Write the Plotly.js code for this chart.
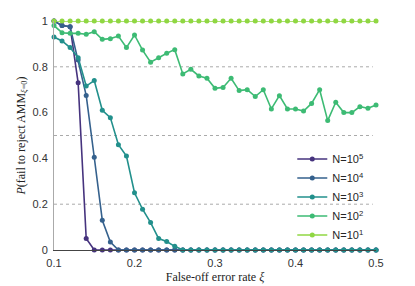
<!DOCTYPE html>
<html>
<head>
<meta charset="utf-8">
<script src="https://cdn.plot.ly/plotly-3.0.1.min.js"></script>
<style>html,body{margin:0;padding:0;background:#fff;}#chart{width:415px;height:286px;}</style>
</head>
<body>
<div id="chart"></div>
<script>
const xi = [0.10,0.11,0.12,0.13,0.14,0.15,0.16,0.17,0.18,0.19,0.20,0.21,0.22,0.23,0.24,0.25,0.26,0.27,0.28,0.29,0.30,0.31,0.32,0.33,0.34,0.35,0.36,0.37,0.38,0.39,0.40,0.41,0.42,0.43,0.44,0.45,0.46,0.47,0.48,0.49,0.50];

const pN1e5 = [1,0.98,0.975,0.73,0.05,0,0,0,0,0,0,0,0,0,0,0,0,0,0,0,0,0,0,0,0,0,0,0,0,0,0,0,0,0,0,0,0,0,0,0,0];
const pN1e4 = [1,0.98,0.975,0.83,0.675,0.405,0.13,0.035,0,0,0,0,0,0,0,0,0,0,0,0,0,0,0,0,0,0,0,0,0,0,0,0,0,0,0,0,0,0,0,0,0];
const pN1e3 = [0.93,0.913,0.884,0.84,0.716,0.74,0.61,0.578,0.46,0.41,0.25,0.178,0.12,0.05,0.037,0.016,0,0,0,0,0,0,0,0,0,0,0,0,0,0,0,0,0,0,0,0,0,0,0,0,0];
const pN1e2 = [0.98,0.949,0.946,0.946,0.942,0.953,0.92,0.923,0.934,0.884,0.939,0.873,0.82,0.84,0.859,0.875,0.769,0.789,0.76,0.75,0.706,0.71,0.75,0.696,0.70,0.67,0.70,0.616,0.674,0.616,0.616,0.607,0.64,0.70,0.565,0.645,0.60,0.60,0.626,0.619,0.633];
const pN1e1 = [1,1,1,1,1,1,1,1,1,1,1,1,1,1,1,1,1,1,1,1,1,1,1,1,1,1,1,1,1,1,1,1,1,1,1,1,1,1,1,1,1];

const seriesNames = ['N=10<sup>5</sup>','N=10<sup>4</sup>','N=10<sup>3</sup>','N=10<sup>2</sup>','N=10<sup>1</sup>'];
const seriesData = [pN1e5, pN1e4, pN1e3, pN1e2, pN1e1];
const seriesColors = ['#46337e','#35618d','#22908c','#3dbb74','#90d743'];

const xTicks = [0.1,0.2,0.3,0.4,0.5];
const xTickText = ['0.1','0.2','0.3','0.4','0.5'];
const yTicks = [0,0.2,0.4,0.6,0.8,1];
const yTickText = ['0','0.2','0.4','0.6','0.8','1'];
const refLines = [0.2,0.5,0.8];

const traces = seriesData.map((y,i)=>({
  x: xi, y: y, type:'scatter', mode:'lines+markers', name: seriesNames[i],
  line:{color:seriesColors[i], width:1.6},
  marker:{color:seriesColors[i], size:5},
  cliponaxis:false
}));

const shapes = refLines.map(v=>({
  type:'line', xref:'paper', x0:0, x1:0.99, yref:'y', y0:v, y1:v,
  line:{color:'#aaaaaa', width:1, dash:'dot'}, layer:'below'
}));

const layout = {
  width:415, height:286,
  margin:{l:54, r:39, t:21, b:36},
  paper_bgcolor:'#ffffff', plot_bgcolor:'#ffffff',
  showlegend:true,
  legend:{x:0.74, y:0.461, xanchor:'left', yanchor:'top', bgcolor:'rgba(0,0,0,0)',
    font:{family:'Liberation Sans, Arial, sans-serif', size:11, color:'#262626'}, tracegroupgap:0},
  xaxis:{range:[0.1,0.5], tickvals:xTicks, ticktext:xTickText, showgrid:false, zeroline:false,
    showline:true, linecolor:'#444444', linewidth:1, ticks:'', ticklabelstandoff:3,
    tickfont:{family:'Liberation Sans, Arial, sans-serif', size:11, color:'#333333'},
    title:{text:'False-off error rate <i>ξ</i>', font:{family:'Liberation Serif, DejaVu Serif, serif', size:12, color:'#222222'}, standoff:4}},
  yaxis:{range:[0,1], tickvals:yTicks, ticktext:yTickText, showgrid:false, zeroline:false,
    showline:true, linecolor:'#aaaaaa', linewidth:1, ticks:'', ticklabelstandoff:3,
    tickfont:{family:'Liberation Sans, Arial, sans-serif', size:11, color:'#333333'},
    title:{text:'<i>P</i>(fail to reject AMM<sub><i>ξ</i>=0</sub>)', font:{family:'Liberation Serif, DejaVu Serif, serif', size:12, color:'#222222'}, standoff:4}},
  shapes: shapes
};

Plotly.newPlot('chart', traces, layout, {displayModeBar:false, staticPlot:true});
</script>
</body>
</html>
